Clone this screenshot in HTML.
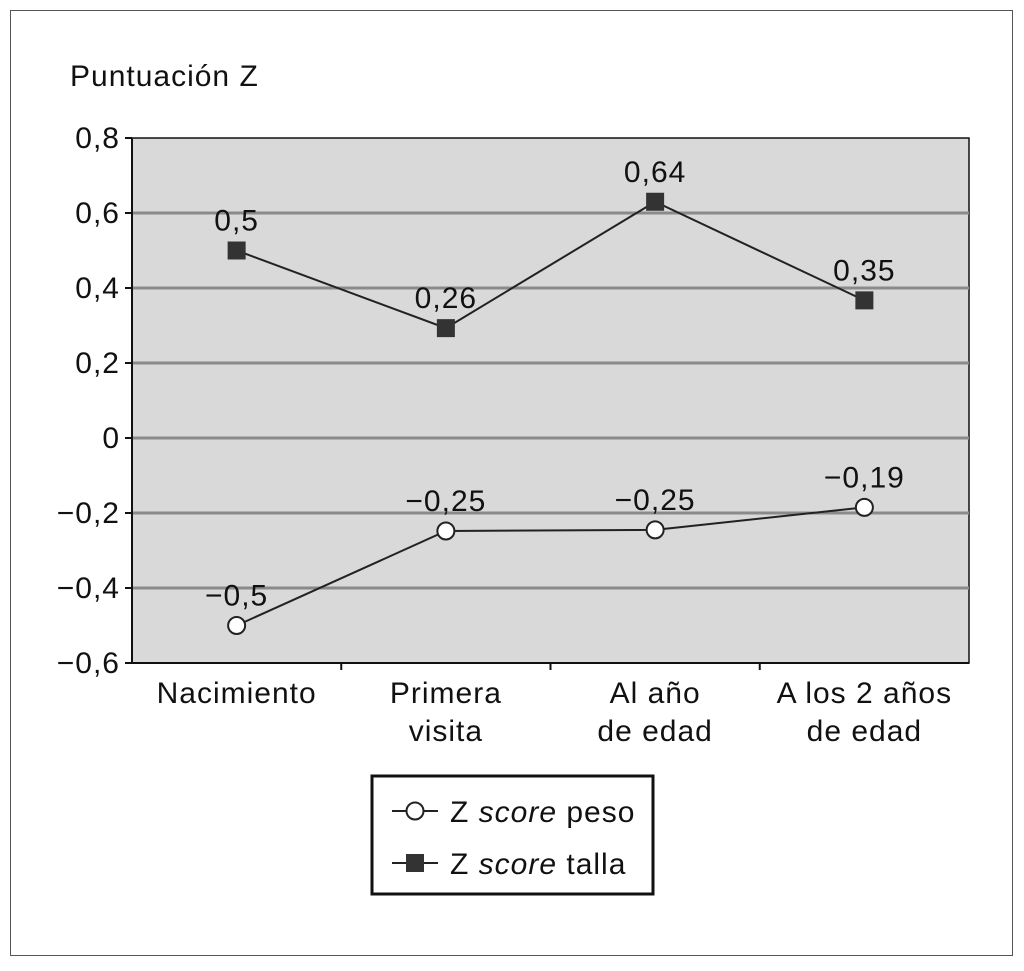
<!DOCTYPE html>
<html><head><meta charset="utf-8">
<style>
html,body{margin:0;padding:0;background:#fff;}
body{width:1024px;height:966px;overflow:hidden;font-family:"Liberation Sans",Arial,sans-serif;}
text{letter-spacing:1px;}
</style></head>
<body>
<svg id="chart" width="1024" height="966" xmlns="http://www.w3.org/2000/svg" font-family="Liberation Sans, Arial, sans-serif">
<rect x="10.5" y="10.5" width="1002" height="945" fill="#fff" stroke="#555" stroke-width="1"/>
<text x="70" y="86" font-size="30" fill="#111">Puntuación Z</text>
<rect x="132" y="138" width="837" height="525" fill="#d9d9d9" stroke="#111" stroke-width="1.5"/>
<g id="grid"></g><g id="axes"></g><g id="series"></g>
<g>
<rect x="372" y="776" width="281" height="118" fill="#fff" stroke="#111" stroke-width="3"/>
<line x1="392" y1="811" x2="438" y2="811" stroke="#222" stroke-width="2"/>
<circle cx="415" cy="811" r="8.5" fill="#fff" stroke="#222" stroke-width="2"/>
<text x="450" y="822" font-size="30" fill="#111">Z <tspan font-style="italic">score</tspan> peso</text>
<line x1="392" y1="863" x2="438" y2="863" stroke="#222" stroke-width="2"/>
<rect x="406" y="854" width="18" height="18" fill="#333"/>
<text x="450" y="874" font-size="30" fill="#111">Z <tspan font-style="italic">score</tspan> talla</text>
</g>
</svg>
<script>
const categories=[["Nacimiento"],["Primera","visita"],["Al año","de edad"],["A los 2 años","de edad"]];
const pesoValues=[-0.5,-0.248,-0.245,-0.185];
const pesoLabels=["−0,5","−0,25","−0,25","−0,19"];
const tallaValues=[0.5,0.293,0.63,0.367];
const tallaLabels=["0,5","0,26","0,64","0,35"];
const yTicks=[0.8,0.6,0.4,0.2,0,-0.2,-0.4,-0.6];
const yTickLabels=["0,8","0,6","0,4","0,2","0","−0,2","−0,4","−0,6"];
const NS="http://www.w3.org/2000/svg";
const L=132,R=969,T=138,B=663,yMax=0.8,yMin=-0.6;
const band=(R-L)/categories.length;
function xS(i){return L+band*(i+0.5);}
function yS(v){return T+(yMax-v)/(yMax-yMin)*(B-T);}
function mk(tag,attrs,parent,txt){const e=document.createElementNS(NS,tag);for(const k in attrs)e.setAttribute(k,attrs[k]);if(txt!==undefined)e.textContent=txt;document.getElementById(parent).appendChild(e);return e;}
yTicks.forEach((v,i)=>{
  if(v<yMax&&v>yMin){const g=mk('line',{x1:L,x2:R,y1:yS(v),y2:yS(v),stroke:'#8a8a8a','stroke-width':3},'grid');
  
  }
  const t=mk('line',{x1:L-7,x2:L,y1:yS(v),y2:yS(v),stroke:'#111','stroke-width':2},'axes');
  
  
  const tl=mk('text',{x:L-12,y:yS(v)+10,'text-anchor':'end','font-size':30,fill:'#111'},'axes',yTickLabels[i]);
  
  
});
mk('line',{x1:L,x2:L,y1:T,y2:B,stroke:'#111','stroke-width':2},'axes');
mk('line',{x1:L,x2:R,y1:B,y2:B,stroke:'#111','stroke-width':2},'axes');
categories.forEach((c,i)=>{
  if(i>0){const t=mk('line',{x1:L+band*i,x2:L+band*i,y1:B,y2:B+7,stroke:'#111','stroke-width':2},'axes');
  
  }
  c.forEach((ln,j)=>{const t=mk('text',{x:xS(i),y:B+40+j*38,'text-anchor':'middle','font-size':30,fill:'#111'},'axes',ln);
  
  });
});
function series(vals,labels,kind){
  const pts=vals.map((v,i)=>xS(i)+','+yS(v)).join(' ');
  const pl=mk('polyline',{points:pts,fill:'none',stroke:'#222','stroke-width':2},'series');
  
  
  vals.forEach((v,i)=>{
    let m;
    if(kind==='peso'){m=mk('circle',{cx:xS(i),cy:yS(v),r:8.5,fill:'#fff',stroke:'#222','stroke-width':2},'series');}
    else{m=mk('rect',{x:xS(i)-9,y:yS(v)-9,width:18,height:18,fill:'#333'},'series');}
    
    
    const t=mk('text',{x:xS(i),y:yS(v)-20,'text-anchor':'middle','font-size':30,fill:'#111'},'series',labels[i]);
    
    
  });
}
series(tallaValues,tallaLabels,'talla');
series(pesoValues,pesoLabels,'peso');
</script>
</body></html>
